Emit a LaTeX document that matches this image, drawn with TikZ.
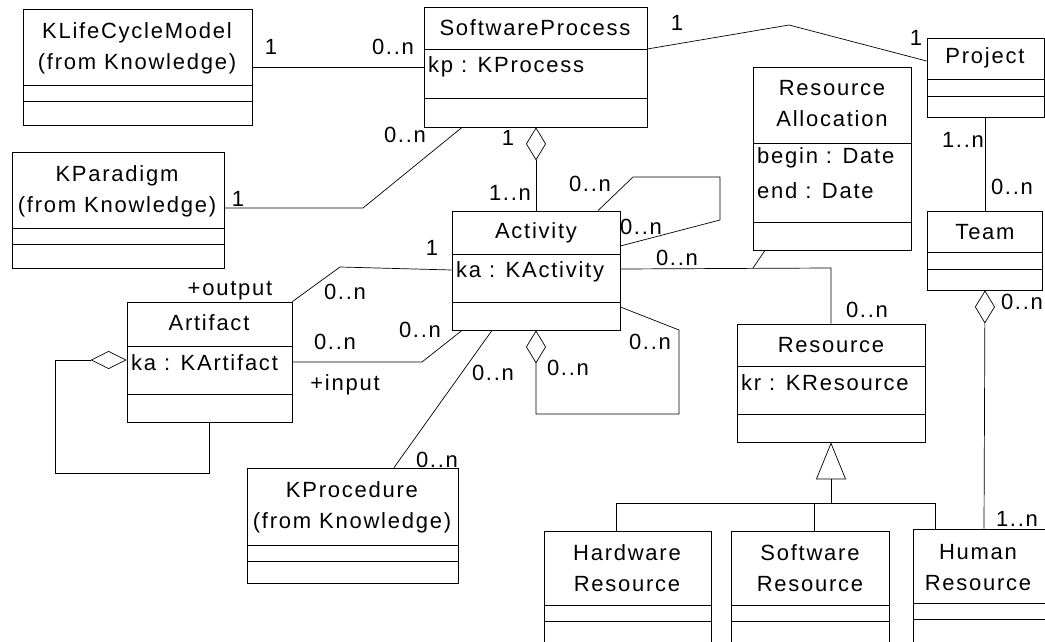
\documentclass[tikz,border=0pt]{standalone}
\usepackage{fontspec}
\setmainfont{Liberation Sans}[LetterSpace=8]
\usetikzlibrary{fit,arrows.meta}

\tikzset{
  cls/.style={draw, line width=0.8pt, inner sep=0pt},
  ttl/.style={inner sep=0pt, align=center, font=\fontsize{22}{31}\selectfont},
  attr/.style={inner sep=0pt, anchor=west, font=\fontsize{22}{31}\selectfont},
  mult/.style={inner sep=0pt, font=\fontsize{22}{26}\selectfont},
  assoc/.style={line width=0.7pt},
  aggr/.style={line width=0.7pt, {Diamond[open, length=33pt, width=20pt]}-},
}

\begin{document}
\begin{tikzpicture}[x=1pt, y=-1pt]
    \useasboundingbox (0,0) rectangle (1045,642);
    \clip (0,0) rectangle (1045,642);
    % class boxes
    \node[cls, fit={(23,9) (252,125)}]    (klcm)  {};
    \node[cls, fit={(12,152) (224,268)}]  (kpar)  {};
    \node[cls, fit={(424,7) (647,127)}]   (sp)    {};
    \node[cls, fit={(927,38) (1044,117)}] (proj)  {};
    \node[cls, fit={(753,67) (911,250)}]  (ra)    {};
    \node[cls, fit={(452,211) (620,330)}] (act)   {};
    \node[cls, fit={(927,211) (1042,290)}] (team) {};
    \node[cls, fit={(127,302) (292,422)}] (art)   {};
    \node[cls, fit={(247,468) (458,583)}] (kproc) {};
    \node[cls, fit={(737,324) (925,442)}] (res)   {};
    \node[cls, fit={(544,531) (711,660)}] (hw)    {};
    \node[cls, fit={(731,531) (889,660)}] (swr)   {};
    \node[cls, fit={(913,529) (1080,660)}] (hum)  {};
    \foreach \n/\a/\b in {klcm/85/101, kpar/228/244, sp/49/98, proj/79/96, ra/143/222,
                          act/254/302, team/252/269, art/346/394, kproc/545/561,
                          res/366/414, hw/605/621, swr/605/621, hum/603/619}
        \draw[line width=0.8pt] (\n.west |- 0,\a) -- (\n.east |- 0,\a)
                                (\n.west |- 0,\b) -- (\n.east |- 0,\b);
    \foreach \n in {klcm, kpar, sp, proj, ra, act, team, art, kproc, res, hw, swr, hum}
        \draw[line width=1.8pt] (\n.south west) -- (\n.south east) -- (\n.north east);

    % names and attributes
    \node[ttl] (klcmT)  at (137,48)  {KLifeCycleModel\\(from Knowledge)};
    \node[ttl] (kparT)  at (117,191) {KParadigm\\(from Knowledge)};
    \node[ttl] (spT)    at (535,28)  {SoftwareProcess};
    \node[attr] (spA)   at (428,67)  {kp : KProcess};
    \node[ttl] (actT)   at (536,233) {Activity};
    \node[attr] (actA)  at (456,272) {ka : KActivity};
    \node[ttl] (projT)  at (985,58)  {Project};
    \node[ttl] (raT)    at (832,104) {Resource\\Allocation};
    \node[attr] (raA1)  at (757,158) {begin : Date};
    \node[attr] (raA2)  at (757,191) {end : Date};
    \node[ttl] (teamT)  at (985,232) {Team};
    \node[ttl] (artT)   at (209,323) {Artifact};
    \node[attr] (artA)  at (131,363) {ka : KArtifact};
    \node[ttl] (kprocT) at (352,507) {KProcedure\\(from Knowledge)};
    \node[ttl] (resT)   at (831,345) {Resource};
    \node[attr] (resA)  at (741,383) {kr : KResource};
    \node[ttl] (hwT)    at (627,568) {Hardware\\Resource};
    \node[ttl] (swrT)   at (810,568) {Software\\Resource};
    \node[ttl] (humT)   at (978,568) {Human\\Resource};

    % associations
    \draw[assoc] (klcm.east |- 0,67) -- (sp.west |- 0,67);
    \draw[assoc] (kpar.east |- 0,208) -- (363,208) -- (sp.south -| 462,0);
    \draw[assoc] (sp.east |- 0,49) -- (789,25) -- (proj.west |- 0,61);
    \draw[assoc] (proj.south -| 985,0) -- (team.north -| 985,0);
    \draw[assoc] (act.north -| 598,0) -- (633,177) -- (720,177) -- (720,220) -- (act.east |- 0,246);
    \draw[assoc] (act.east |- 0,269) -- (831,268) -- (res.north -| 831,0);
    \coordinate (raLink) at (753,268);
    \draw[assoc] (raLink) -- (ra.south -| 765,0);
    \draw[assoc] (art.north east) -- (340,267) -- (act.west |- 0,270);
    \draw[assoc] (art.east |- 0,362) -- (422,362) -- (act.south -| 462,0);
    \draw[assoc] (act.south -| 492,0) -- (kproc.north -| 394,0);

    % aggregations
    \draw[aggr] (sp.south -| 536,0) -- (act.north -| 536,0);
    \draw[aggr] (act.south -| 536,0) -- (536,414) -- (679,414) -- (679,330) -- (act.east |- 0,307);
    \draw[aggr] (team.south -| 985,0) -- (hum.north -| 984,0);
    \draw[line width=0.7pt, {Diamond[open, length=36pt, width=18pt]}-]
        (art.west |- 0,360) -- (55,360) -- (55,473) -- (209,473) -- (art.south -| 209,0);

    % generalization
    \draw[assoc] (hw.north -| 616,0) -- (616,503) -- (935,503) -- (hum.north -| 935,0);
    \draw[assoc] (swr.north -| 814,0) -- (814,503);
    \draw[assoc, -{Triangle[open, length=37pt, width=30pt]}] (831,503) -- (res.south -| 831,0);

    % multiplicities and roles
    \node[mult] (m1)  at (271,47)   {1};
    \node[mult] (m2)  at (393,47)   {0..n};
    \node[mult] (m3)  at (238,199)  {1};
    \node[mult] (m4)  at (405,135)  {0..n};
    \node[mult] (m5)  at (677,23)   {1};
    \node[mult] (m6)  at (916,38)   {1};
    \node[mult] (m7)  at (508,138)  {1};
    \node[mult] (m8)  at (510,193)  {1..n};
    \node[mult] (m9)  at (590,184)  {0..n};
    \node[mult] (m10) at (641,227)  {0..n};
    \node[mult] (m11) at (677,258)  {0..n};
    \node[mult] (m12) at (432,248)  {1};
    \node[mult] (m13) at (963,140)  {1..n};
    \node[mult] (m14) at (1012,187) {0..n};
    \node[mult] (m15) at (867,310)  {0..n};
    \node[mult] (m16) at (1022,302) {0..n};
    \node[mult] (m17) at (230,291)  {+output};
    \node[mult] (m18) at (345,292)  {0..n};
    \node[mult] (m19) at (335,342)  {0..n};
    \node[mult] (m20) at (345,385)  {+input};
    \node[mult] (m21) at (420,330)  {0..n};
    \node[mult] (m22) at (493,373)  {0..n};
    \node[mult] (m23) at (568,368)  {0..n};
    \node[mult] (m24) at (650,342)  {0..n};
    \node[mult] (m25) at (437,460)  {0..n};
    \node[mult] (m26) at (1017,519) {1..n};
\end{tikzpicture}
\end{document}
